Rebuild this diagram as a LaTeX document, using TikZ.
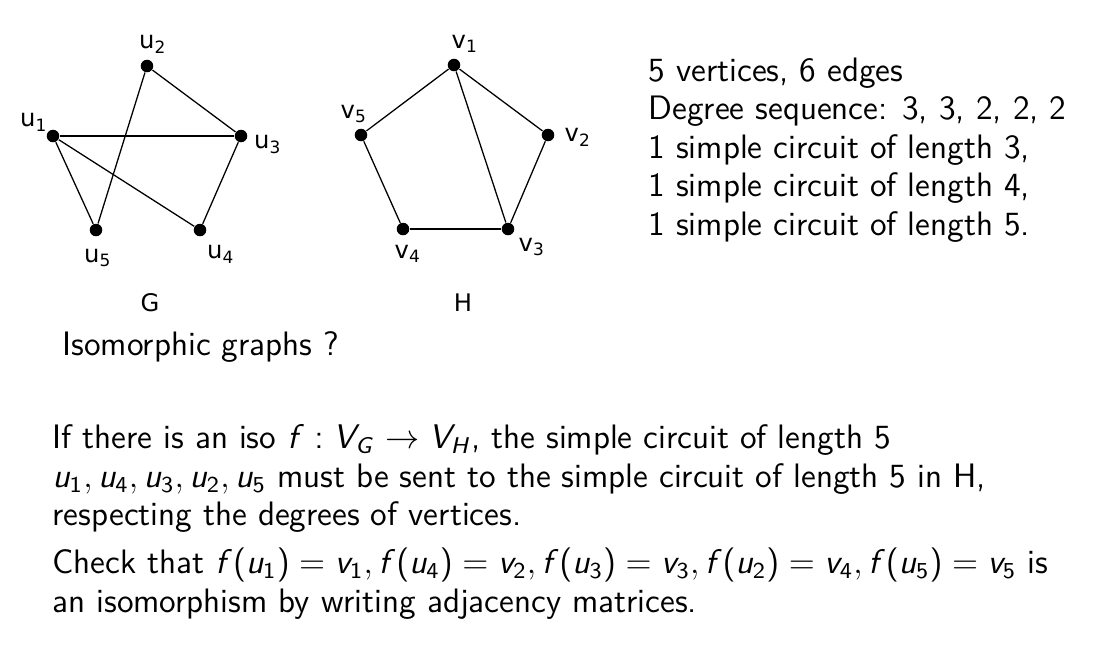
\documentclass[tikz,border=0pt]{standalone}
\usepackage[no-math]{fontspec}
\renewcommand\familydefault{\sfdefault}
\newfontfamily\lblfont{DejaVu Sans}
% sans serif math, slanted letters
\DeclareSymbolFont{sfletters}{OT1}{cmss}{m}{sl}
\SetSymbolFont{operators}{normal}{OT1}{cmss}{m}{n}
\DeclareMathSymbol{f}{\mathalpha}{sfletters}{`f}
\DeclareMathSymbol{u}{\mathalpha}{sfletters}{`u}
\DeclareMathSymbol{v}{\mathalpha}{sfletters}{`v}
\DeclareMathSymbol{V}{\mathalpha}{sfletters}{`V}
\DeclareMathSymbol{G}{\mathalpha}{sfletters}{`G}
\DeclareMathSymbol{H}{\mathalpha}{sfletters}{`H}
\usepackage{tikz}

\begin{document}
\begin{tikzpicture}[x=0.351pt, y=-0.351pt,
    vtx/.style={circle, fill=black, inner sep=0pt, minimum size=4.4pt},
    lbl/.style={font=\lblfont\fontsize{8.5}{10}\selectfont, inner sep=0pt},
    txt/.style={font=\fontsize{11.9}{13.5}\selectfont, inner sep=0pt, align=left, anchor=base west},
    edge/.style={line width=0.45pt}]
    \useasboundingbox (0,0) rectangle (1106,653);

    % Graph G
    \node[vtx] (u1) at (53,136) {};
    \node[vtx] (u2) at (147,66) {};
    \node[vtx] (u3) at (241,136) {};
    \node[vtx] (u4) at (200,230) {};
    \node[vtx] (u5) at (96,230) {};
    \node[lbl] (lu1) at (34,122) {u\textsubscript{1}};
    \node[lbl] (lu2) at (153,44) {u\textsubscript{2}};
    \node[lbl] (lu3) at (268,144) {u\textsubscript{3}};
    \node[lbl] (lu4) at (221,254) {u\textsubscript{4}};
    \node[lbl] (lu5) at (98,258) {u\textsubscript{5}};
    \draw[edge] (u1) -- (u3);
    \draw[edge] (u2) -- (u3);
    \draw[edge] (u2) -- (u5);
    \draw[edge] (u1) -- (u5);
    \draw[edge] (u1) -- (u4);
    \draw[edge] (u3) -- (u4);
    \node[lbl] (gG) at (150,303) {G};

    % Graph H
    \node[vtx] (v1) at (454,65) {};
    \node[vtx] (v2) at (548,135) {};
    \node[vtx] (v3) at (508,229) {};
    \node[vtx] (v4) at (403,229) {};
    \node[vtx] (v5) at (361,135) {};
    \node[lbl] (lv1) at (465,44) {v\textsubscript{1}};
    \node[lbl] (lv2) at (578,137) {v\textsubscript{2}};
    \node[lbl] (lv3) at (532,247) {v\textsubscript{3}};
    \node[lbl] (lv4) at (408,254) {v\textsubscript{4}};
    \node[lbl] (lv5) at (354,114) {v\textsubscript{5}};
    \draw[edge] (v1) -- (v5);
    \draw[edge] (v1) -- (v2);
    \draw[edge] (v1) -- (v3);
    \draw[edge] (v2) -- (v3);
    \draw[edge] (v3) -- (v4);
    \draw[edge] (v4) -- (v5);
    \node[lbl] (gH) at (463,303) {H};

    % Invariants (anchored on the last line)
    \node[txt] (facts) at (648,235) {5 vertices, 6 edges\\
        Degree sequence: 3, 3, 2, 2, 2\\
        1 simple circuit of length 3,\\
        1 simple circuit of length 4,\\
        1 simple circuit of length 5.};
    \node[txt] (quest) at (62,355) {Isomorphic graphs ?};

    % Argument
    \node[txt] (proof) at (52,612) {If there is an iso $f: V_G \to V_H$, the simple circuit of length 5\\
        $u_1, u_4, u_3, u_2, u_5$ must be sent to the simple circuit of length 5 in H,\\
        respecting the degrees of vertices.\\[3.3pt]
        Check that $f(u_1)=v_1, f(u_4)=v_2, f(u_3)=v_3, f(u_2)=v_4, f(u_5)=v_5$ is\\
        an isomorphism by writing adjacency matrices.};
\end{tikzpicture}
\end{document}
